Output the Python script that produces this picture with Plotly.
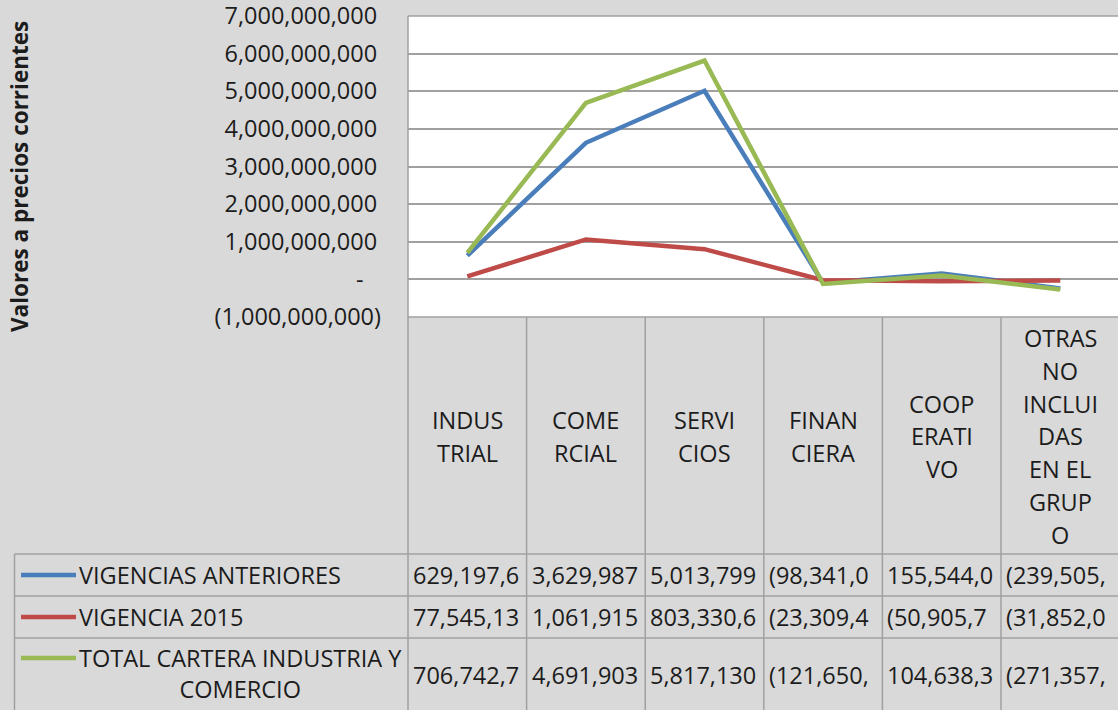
import plotly.graph_objects as go

# ---------------- data ----------------
categories = ["INDUSTRIAL", "COMERCIAL", "SERVICIOS", "FINANCIERA", "COOPERATIVO",
              "OTRAS NO INCLUIDAS EN EL GRUPO"]
category_lines = [["INDUS", "TRIAL"], ["COME", "RCIAL"], ["SERVI", "CIOS"],
                  ["FINAN", "CIERA"], ["COOP", "ERATI", "VO"],
                  ["OTRAS", "NO", "INCLUI", "DAS", "EN EL", "GRUP", "O"]]
series_names = ["VIGENCIAS ANTERIORES", "VIGENCIA 2015", "TOTAL CARTERA INDUSTRIA Y COMERCIO"]
vigencias_anteriores = [629197650, 3629987600, 5013799500, -98341050, 155544050, -239505200]
vigencia_2015 = [77545130, 1061915700, 803330650, -23309450, -50905750, -31852050]
total_cartera = [706742780, 4691903300, 5817130150, -121650500, 104638300, -271357250]
tick_values = [-1e9, 0, 1e9, 2e9, 3e9, 4e9, 5e9, 6e9, 7e9]

# ---------------- style ----------------
W, H = 1118, 710
BG = "#d9d9d9"
GRID = "#a0a0a0"
TXT = "#1c1c1c"
FONT = "Open Sans"
FS = 23.5
colors = ["#4a7ebb", "#be4b48", "#98b954"]


def X(px):
    return px / W


def Y(py):
    return 1 - py / H


def acct(v):
    if v == 0:
        return "-"
    s = f"{abs(v):,.0f}"
    return f"({s})" if v < 0 else s


def tick_label(v):
    if v == 0:
        return "-\u2007\u2009"
    if v < 0:
        return acct(v)
    return acct(v) + "\u2009"


plot_left, plot_top, plot_bottom = 408, 16, 317
table_rows = [554, 596, 638, 712]

fig = go.Figure()
xs = list(range(len(categories)))
all_series = [vigencias_anteriores, vigencia_2015, total_cartera]
for name, vals, c in zip(series_names, all_series, colors):
    fig.add_trace(go.Scatter(x=xs, y=vals, mode="lines", name=name,
                             line=dict(color=c, width=4.5), showlegend=False,
                             cliponaxis=False, hoverinfo="skip"))

shapes = []
annotations = []

# table horizontal lines
shapes.append(dict(type="line", xref="paper", yref="paper", x0=X(plot_left), x1=1,
                   y0=Y(plot_bottom), y1=Y(plot_bottom), line=dict(color=GRID, width=1.5)))
for r in table_rows[:3]:
    shapes.append(dict(type="line", xref="paper", yref="paper", x0=X(14.5), x1=1,
                       y0=Y(r), y1=Y(r), line=dict(color=GRID, width=1.5)))
# vertical lines
shapes.append(dict(type="line", xref="paper", yref="paper", x0=X(plot_left), x1=X(plot_left),
                   y0=Y(plot_top), y1=0, line=dict(color=GRID, width=1.5)))
shapes.append(dict(type="line", xref="paper", yref="paper", x0=X(14.5), x1=X(14.5),
                   y0=Y(table_rows[0]), y1=0, line=dict(color=GRID, width=1.5)))
for i in range(len(categories) - 1):
    shapes.append(dict(type="line", xref="x", yref="paper", x0=i + 0.5, x1=i + 0.5,
                       y0=Y(plot_bottom), y1=0, line=dict(color=GRID, width=1.5)))

# header labels
header_center = (plot_bottom + table_rows[0]) / 2
spacing = 32.7
for i, lines in enumerate(category_lines):
    n = len(lines)
    for k, t in enumerate(lines):
        yy = header_center + (k - (n - 1) / 2) * spacing
        annotations.append(dict(x=i, xref="x", y=Y(yy + 1), yref="paper", text=t,
                                showarrow=False, xanchor="center", yanchor="middle",
                                font=dict(family=FONT, size=FS, color=TXT)))

# legend rows and values
row_centers = [575, 617, 675]
for j, (name, vals, c) in enumerate(zip(series_names, all_series, colors)):
    key_y = row_centers[j] if j < 2 else 658
    shapes.append(dict(type="line", xref="paper", yref="paper", x0=X(21), x1=X(76),
                       y0=Y(key_y), y1=Y(key_y), line=dict(color=c, width=4.5)))
    if j < 2:
        annotations.append(dict(x=X(77), xref="paper", y=Y(row_centers[j]), yref="paper",
                                text=name, showarrow=False, xanchor="left", yanchor="middle",
                                font=dict(family=FONT, size=FS, color=TXT)))
    else:
        annotations.append(dict(x=X(240), xref="paper", y=Y(673), yref="paper",
                                text="TOTAL CARTERA INDUSTRIA Y<br>COMERCIO", align="center",
                                showarrow=False, xanchor="center", yanchor="middle",
                                font=dict(family=FONT, size=FS, color=TXT)))
    for i, v in enumerate(vals):
        annotations.append(dict(x=i - 0.5, xref="x", y=Y(row_centers[j]), yref="paper",
                                text=acct(v)[:9], showarrow=False, xanchor="left",
                                yanchor="middle", xshift=3,
                                font=dict(family=FONT, size=FS, color=TXT)))

# y axis title
annotations.append(dict(x=X(19), xref="paper", y=Y(177), yref="paper",
                        text="<b>Valores a precios corrientes</b>", textangle=-90,
                        showarrow=False, xanchor="center", yanchor="middle",
                        font=dict(family=FONT, size=22.5, color=TXT)))

fig.update_layout(
    template="none",
    width=W, height=H,
    margin=dict(l=0, r=0, t=0, b=0, pad=0),
    paper_bgcolor=BG, plot_bgcolor="white",
    hovermode=False,
    xaxis=dict(domain=[X(plot_left), 1], range=[-0.5, -0.5 + (W - plot_left) / 118.6],
               showgrid=False, showticklabels=False, zeroline=False, showline=False,
               automargin=False, fixedrange=True),
    yaxis=dict(domain=[Y(plot_bottom), Y(plot_top)], range=[-1.0e9, 7.0e9],
               tickvals=tick_values, ticktext=[tick_label(v) for v in tick_values],
               showgrid=True, gridcolor=GRID, gridwidth=1.5, zeroline=False,
               showline=False, ticks="", ticklabelstandoff=26, automargin=False,
               ticklabeloverflow="allow", fixedrange=True,
               tickfont=dict(family=FONT, size=FS, color=TXT)),
    shapes=shapes,
    annotations=annotations,
)
# top border of plot area
fig.add_shape(type="line", xref="paper", yref="paper", x0=X(plot_left), x1=1,
              y0=Y(plot_top), y1=Y(plot_top), line=dict(color=GRID, width=1.5))

fig.write_html("out.html", config={"displayModeBar": False, "responsive": False},
               post_script="document.body.style.margin='0';document.body.style.overflow='hidden';")
